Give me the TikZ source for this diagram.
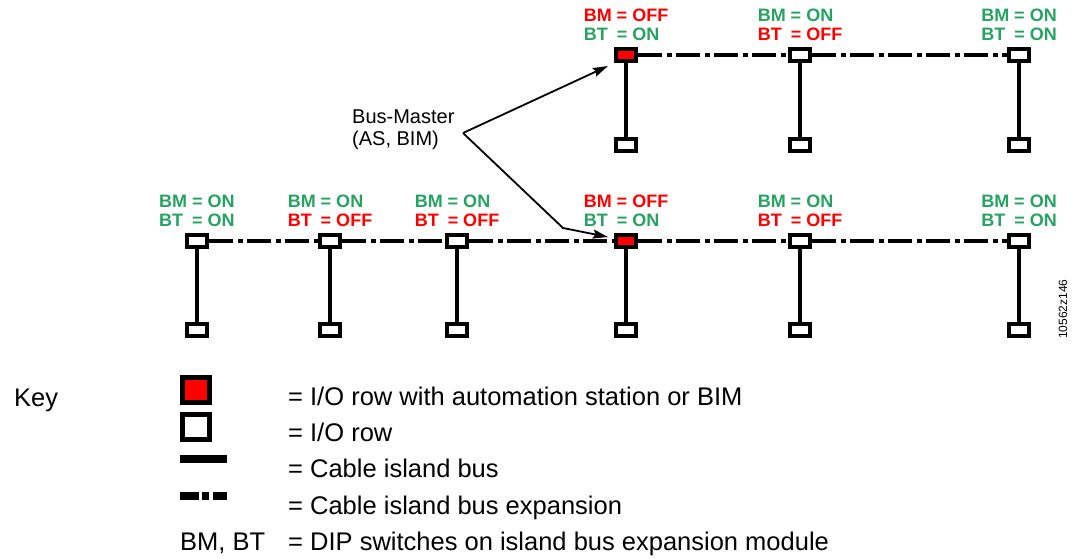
\documentclass[tikz,border=0pt]{standalone}
\usepackage{fontspec}
\setmainfont{Liberation Sans}
\usetikzlibrary{positioning,arrows.meta}

\definecolor{swgreen}{RGB}{38,163,96}
\definecolor{swred}{RGB}{255,0,0}

\newlength{\bmwd}
\newcommand{\dipset}[4]{%
  \textcolor{#1}{BM = #2}\\\settowidth{\bmwd}{BM}\textcolor{#3}{\makebox[\bmwd][l]{BT} = #4}}

\begin{document}
\begin{tikzpicture}[
	x=1pt, y=-1pt,
	iorow/.style={ draw, line width=4pt, fill=white, minimum width=20pt, minimum height=12pt, inner sep=0pt },
	master/.style={ iorow, fill=swred },
	keybox/.style={ draw, line width=5pt, fill=white, minimum width=27pt, minimum height=25pt, inner sep=0pt },
	bus/.style={ line width=4pt },
	busexp/.style={ line width=4pt, dash pattern=on 24pt off 5pt on 5pt off 4pt },
	dip/.style={ font=\fontsize{18}{19}\selectfont\bfseries, align=left, inner sep=0pt },
	keytext/.style={ font=\fontsize{25.5}{30}\selectfont, anchor=base west, inner sep=0pt },
	pointer/.style={ line width=1.8pt, -{Stealth[length=15pt,width=9pt,inset=2pt]} }
]

\useasboundingbox (0,0) rectangle (1078,558);

% upper island
\node[master] at (626,55) (t1) {};
\node[iorow] at (800,55) (t2) {};
\node[iorow] at (1019,55) (t3) {};
\node[iorow] at (626,145) (t1d) {};
\node[iorow] at (800,145) (t2d) {};
\node[iorow] at (1019,145) (t3d) {};
\draw[busexp] (t1) -- (t2);
\draw[busexp] (t2) -- (t3);
\draw[bus] (t1) -- (t1d);
\draw[bus] (t2) -- (t2d);
\draw[bus] (t3) -- (t3d);

\node[dip, above=6pt of t1] (t1sw) {\dipset{swred}{OFF}{swgreen}{ON}};
\node[dip, above=6pt of t2] (t2sw) {\dipset{swgreen}{ON}{swred}{OFF}};
\node[dip, above=6pt of t3] (t3sw) {\dipset{swgreen}{ON}{swgreen}{ON}};

% lower island
\node[iorow] at (197,241) (l1) {};
\node[iorow] at (330,241) (l2) {};
\node[iorow] at (457,241) (l3) {};
\node[master] at (626,241) (l4) {};
\node[iorow] at (800,241) (l5) {};
\node[iorow] at (1019,241) (l6) {};
\node[iorow] at (197,330) (l1d) {};
\node[iorow] at (330,330) (l2d) {};
\node[iorow] at (457,330) (l3d) {};
\node[iorow] at (626,330) (l4d) {};
\node[iorow] at (800,330) (l5d) {};
\node[iorow] at (1019,330) (l6d) {};
\draw[busexp] (l1) -- (l2);
\draw[busexp] (l2) -- (l3);
\draw[busexp] (l3) -- (l4);
\draw[busexp] (l4) -- (l5);
\draw[busexp] (l5) -- (l6);
\draw[bus] (l1) -- (l1d);
\draw[bus] (l2) -- (l2d);
\draw[bus] (l3) -- (l3d);
\draw[bus] (l4) -- (l4d);
\draw[bus] (l5) -- (l5d);
\draw[bus] (l6) -- (l6d);

\node[dip, above=6pt of l1] (l1sw) {\dipset{swgreen}{ON}{swgreen}{ON}};
\node[dip, above=6pt of l2] (l2sw) {\dipset{swgreen}{ON}{swred}{OFF}};
\node[dip, above=6pt of l3] (l3sw) {\dipset{swgreen}{ON}{swred}{OFF}};
\node[dip, above=6pt of l4] (l4sw) {\dipset{swred}{OFF}{swgreen}{ON}};
\node[dip, above=6pt of l5] (l5sw) {\dipset{swgreen}{ON}{swred}{OFF}};
\node[dip, above=6pt of l6] (l6sw) {\dipset{swgreen}{ON}{swgreen}{ON}};

% bus master callout
\node[font=\fontsize{20}{22}\selectfont, align=left, anchor=west, inner sep=0pt] at (352,130) (bmtext) {Bus-Master\\(AS, BIM)};
\coordinate (bmfork) at (463,133);
\coordinate (bmtiptop) at (608,66);
\coordinate (bmbend) at (563,228);
\coordinate (bmtiplow) at (608,237);
\draw[pointer] (bmfork) -- (bmtiptop);
\draw[pointer] (bmfork) -- (bmbend) -- (bmtiplow);

\node[rotate=90, font=\fontsize{12}{14}\selectfont, inner sep=0pt] at (1063,309) (docid) {10562z146};

% key
\node[keytext] at (14,406) (keyhead) {Key};
\node[keybox, fill=swred] at (196,390) (keyas) {};
\node[keybox] at (196,427) (keyio) {};
\coordinate (keybusa) at (180,459);
\coordinate (keybusb) at (227,459);
\coordinate (keyexpa) at (180,496);
\coordinate (keyexpb) at (227,496);
\draw[line width=8pt] (keybusa) -- (keybusb);
\draw[line width=8pt, dash pattern=on 19pt off 3pt on 7pt off 4pt] (keyexpa) -- (keyexpb);

\node[keytext] at (288,405) (keyastext) {= I/O row with automation station or BIM};
\node[keytext] at (288,441) (keyiotext) {= I/O row};
\node[keytext] at (288,477) (keybustext) {= Cable island bus};
\node[keytext] at (288,514) (keyexptext) {= Cable island bus expansion};
\node[keytext] at (180,550) (keydip) {BM, BT};
\node[keytext] at (288,550) (keydiptext) {= DIP switches on island bus expansion module};

\end{tikzpicture}
\end{document}
